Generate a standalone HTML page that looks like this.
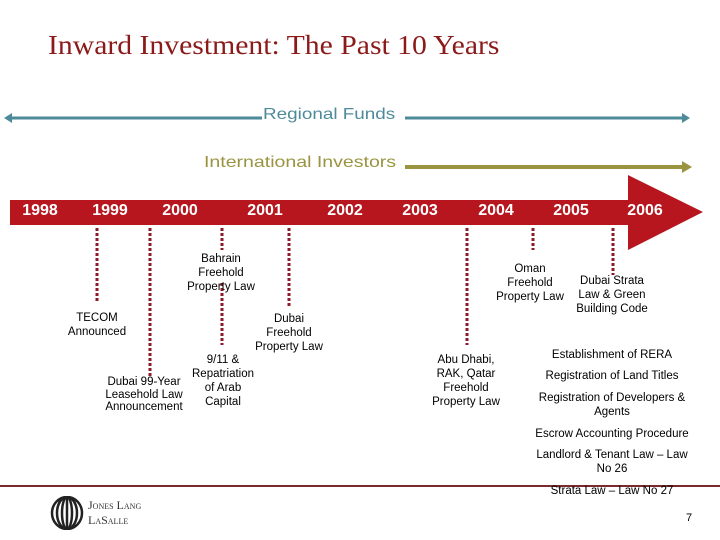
<!DOCTYPE html>
<html><head><meta charset="utf-8"><style>
body{margin:0;width:720px;height:540px;background:#fff;position:relative;overflow:hidden;font-family:"Liberation Sans",sans-serif}
.t{position:absolute;font-size:11.5px;color:#000;text-align:center;line-height:14px;white-space:nowrap;transform:translateX(-50%)}
.yr{position:absolute;top:202px;font-size:16px;font-weight:bold;color:#fff;transform:translateX(-50%)}
</style></head><body>
<div style="position:absolute;left:48px;top:30px;font-family:'Liberation Serif',serif;font-size:27px;color:#8b1a1a;transform:scaleX(1.1);transform-origin:left">Inward Investment: The Past 10 Years</div>
<svg width="720" height="540" style="position:absolute;left:0;top:0">
<g stroke="#4e8a99" fill="#4e8a99">
<line x1="10" y1="118" x2="262" y2="118" stroke-width="3"/><line x1="405" y1="118" x2="684" y2="118" stroke-width="3"/>
<polygon points="4,118 12,113 12,123" stroke="none"/><polygon points="690,118 682,113 682,123" stroke="none"/></g>
<g fill="#9a9440">
<rect x="405" y="165" width="280" height="4"/><polygon points="692,167 682,161 682,173"/></g>
<polygon fill="#b8161f" points="10,200 628,200 628,175 703,212 628,250 628,225 10,225"/>
<g stroke="#8b1a2a" stroke-width="3" stroke-dasharray="3,2">
<line x1="97" y1="228" x2="97" y2="303"/><line x1="150" y1="228" x2="150" y2="377"/>
<line x1="222" y1="228" x2="222" y2="250"/><line x1="222" y1="283" x2="222" y2="345"/>
<line x1="289" y1="228" x2="289" y2="308"/><line x1="467" y1="228" x2="467" y2="345"/>
<line x1="533" y1="228" x2="533" y2="250"/><line x1="613" y1="228" x2="613" y2="275"/></g>
<line x1="0" y1="486" x2="720" y2="486" stroke="#7a2a2a" stroke-width="2"/>
</svg>
<div style="position:absolute;left:263px;top:106px;font-size:16px;color:#4e8a99;transform:scaleX(1.18);transform-origin:left">Regional Funds</div>
<div style="position:absolute;left:204px;top:154px;font-size:16px;color:#9a9440;transform:scaleX(1.22);transform-origin:left">International Investors</div>
<div class="yr" style="left:40px">1998</div>
<div class="yr" style="left:110px">1999</div>
<div class="yr" style="left:180px">2000</div>
<div class="yr" style="left:265px">2001</div>
<div class="yr" style="left:345px">2002</div>
<div class="yr" style="left:420px">2003</div>
<div class="yr" style="left:496px">2004</div>
<div class="yr" style="left:571px">2005</div>
<div class="yr" style="left:645px">2006</div>
<div class="t" style="left:97px;top:311px">TECOM<br>Announced</div>
<div class="t" style="left:144px;top:376px;line-height:12.5px">Dubai 99-Year<br>Leasehold Law<br>Announcement</div>
<div class="t" style="left:221px;top:252px">Bahrain<br>Freehold<br>Property Law</div>
<div class="t" style="left:223px;top:353px">9/11 &amp;<br>Repatriation<br>of Arab<br>Capital</div>
<div class="t" style="left:289px;top:312px">Dubai<br>Freehold<br>Property Law</div>
<div class="t" style="left:466px;top:353px">Abu Dhabi,<br>RAK, Qatar<br>Freehold<br>Property Law</div>
<div class="t" style="left:530px;top:262px">Oman<br>Freehold<br>Property Law</div>
<div class="t" style="left:612px;top:274px">Dubai Strata<br>Law &amp; Green<br>Building Code</div>
<div class="t" style="left:612px;top:348px">Establishment of RERA</div>
<div class="t" style="left:612px;top:369px">Registration of Land Titles</div>
<div class="t" style="left:612px;top:391px">Registration of Developers &amp;<br>Agents</div>
<div class="t" style="left:612px;top:427px">Escrow Accounting Procedure</div>
<div class="t" style="left:612px;top:448px">Landlord &amp; Tenant Law – Law<br>No 26</div>
<div class="t" style="left:612px;top:484px">Strata Law – Law No 27</div>
<svg width="34" height="34" style="position:absolute;left:50px;top:496px">
<g fill="none" stroke="#222" stroke-width="2.5"><ellipse cx="17" cy="17" rx="15" ry="16"/><ellipse cx="17" cy="17" rx="10" ry="16"/><ellipse cx="17" cy="17" rx="5" ry="16"/><line x1="17" y1="1" x2="17" y2="33"/></g></svg>
<div style="position:absolute;left:88px;top:498px;font-family:'Liberation Serif',serif;font-size:12px;line-height:15px;color:#333;font-variant:small-caps">Jones Lang<br>LaSalle</div>
<div style="position:absolute;left:686px;top:512px;font-size:11px">7</div>
</body></html>
